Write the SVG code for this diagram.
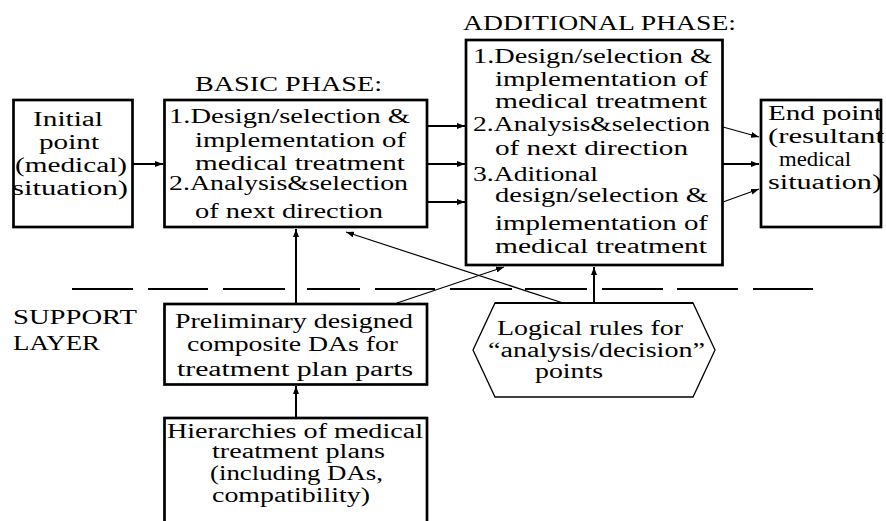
<svg xmlns="http://www.w3.org/2000/svg" width="886" height="521" viewBox="0 0 886 521">
<defs>
<marker id="ah" markerUnits="userSpaceOnUse" markerWidth="9" markerHeight="6" refX="8" refY="3" orient="auto">
<path d="M0,0 L8,3 L0,6 z" fill="#000"/>
</marker>
<style>
.box{fill:#fff;stroke:#000;stroke-width:2.7}
.thin{fill:#fff;stroke:#000;stroke-width:1.3}
.c{stroke:#000;stroke-width:2;fill:none}
.d{stroke:#000;stroke-width:1.2;fill:none}
.dash{stroke:#000;stroke-width:2;fill:none}
text{font-family:'Liberation Serif','DejaVu Serif',serif;font-size:20px;fill:#000}
</style>
</defs>
<rect width="886" height="521" fill="#fff"/>

<g id="separator">
<path class="dash" d="M72,289H133M148,289H208M223,289H285M307,289H360M375,289H435M450,289H512M525,289H587M602,289H663M677,289H738M753,289H813"/>
</g>

<g id="connectors">
<line class="c" x1="133" y1="164" x2="163" y2="164" marker-end="url(#ah)"/>
<line class="c" x1="428" y1="126" x2="465" y2="126" marker-end="url(#ah)"/>
<line class="c" x1="428" y1="164" x2="465" y2="164" marker-end="url(#ah)"/>
<line class="c" x1="428" y1="202" x2="465" y2="202" marker-end="url(#ah)"/>
<line class="d" x1="723" y1="127" x2="759" y2="137" marker-end="url(#ah)"/>
<line class="c" x1="723" y1="164" x2="759" y2="164" marker-end="url(#ah)"/>
<line class="d" x1="723" y1="202" x2="759" y2="189" marker-end="url(#ah)"/>
<line class="c" x1="296" y1="417" x2="296" y2="386" marker-end="url(#ah)"/>
<line class="c" x1="296" y1="303" x2="296" y2="229" marker-end="url(#ah)"/>
<line class="d" x1="397" y1="303" x2="504" y2="267" marker-end="url(#ah)"/>
<line class="d" x1="563" y1="303" x2="346" y2="232" marker-end="url(#ah)"/>
<line class="c" x1="594" y1="303" x2="594" y2="267" marker-end="url(#ah)"/>
</g>

<g id="initial">
<rect class="box" x="13.5" y="100" width="119" height="127"/>
<text x="33" y="126" textLength="70" lengthAdjust="spacingAndGlyphs">Initial</text>
<text x="39" y="149" textLength="60" lengthAdjust="spacingAndGlyphs">point</text>
<text x="15" y="172" textLength="112" lengthAdjust="spacingAndGlyphs">(medical)</text>
<text x="12" y="195" textLength="116" lengthAdjust="spacingAndGlyphs">situation)</text>
</g>

<g id="basic">
<text x="195" y="91" textLength="187" lengthAdjust="spacingAndGlyphs">BASIC PHASE:</text>
<rect class="box" x="164.5" y="100" width="262.5" height="127"/>
<text x="169" y="123" textLength="241" lengthAdjust="spacingAndGlyphs">1.Design/selection &amp;</text>
<text x="195" y="147" textLength="211" lengthAdjust="spacingAndGlyphs">implementation of</text>
<text x="195" y="170" textLength="210" lengthAdjust="spacingAndGlyphs">medical treatment</text>
<text x="169" y="190" textLength="239" lengthAdjust="spacingAndGlyphs">2.Analysis&amp;selection</text>
<text x="195" y="218" textLength="188" lengthAdjust="spacingAndGlyphs">of next direction</text>
</g>

<g id="additional">
<text x="463" y="30" textLength="273" lengthAdjust="spacingAndGlyphs">ADDITIONAL PHASE:</text>
<rect class="box" x="466" y="40" width="256.5" height="225"/>
<text x="473" y="63" textLength="239" lengthAdjust="spacingAndGlyphs">1.Design/selection &amp;</text>
<text x="495" y="86" textLength="213" lengthAdjust="spacingAndGlyphs">implementation of</text>
<text x="495" y="108" textLength="212" lengthAdjust="spacingAndGlyphs">medical treatment</text>
<text x="473" y="131" textLength="237" lengthAdjust="spacingAndGlyphs">2.Analysis&amp;selection</text>
<text x="495" y="155" textLength="193" lengthAdjust="spacingAndGlyphs">of next direction</text>
<text x="473" y="181" textLength="125" lengthAdjust="spacingAndGlyphs">3.Aditional</text>
<text x="495" y="202" textLength="213" lengthAdjust="spacingAndGlyphs">design/selection &amp;</text>
<text x="495" y="230" textLength="213" lengthAdjust="spacingAndGlyphs">implementation of</text>
<text x="495" y="253" textLength="212" lengthAdjust="spacingAndGlyphs">medical treatment</text>
</g>

<g id="end">
<rect class="box" x="761" y="100" width="120" height="127"/>
<text x="768" y="120" textLength="114" lengthAdjust="spacingAndGlyphs">End point</text>
<text x="768" y="143" textLength="116" lengthAdjust="spacingAndGlyphs">(resultant</text>
<text x="779" y="166" textLength="72" lengthAdjust="spacingAndGlyphs">medical</text>
<text x="768" y="189" textLength="114" lengthAdjust="spacingAndGlyphs">situation)</text>
</g>

<g id="support">
<text x="13" y="324" textLength="124" lengthAdjust="spacingAndGlyphs">SUPPORT</text>
<text x="13" y="350" textLength="87" lengthAdjust="spacingAndGlyphs">LAYER</text>
</g>

<g id="preliminary">
<rect class="box" x="164.5" y="304" width="262.5" height="80.5"/>
<text x="175" y="328" textLength="238" lengthAdjust="spacingAndGlyphs">Preliminary designed</text>
<text x="187" y="351" textLength="211" lengthAdjust="spacingAndGlyphs">composite DAs for</text>
<text x="177" y="376" textLength="236" lengthAdjust="spacingAndGlyphs">treatment plan parts</text>
</g>

<g id="rules">
<polygon class="thin" points="495,303 693,303 715,350 693,397 495,397 473,350"/>
<line x1="495" y1="303" x2="693" y2="303" stroke="#000" stroke-width="2"/>
<text x="497" y="335" textLength="186" lengthAdjust="spacingAndGlyphs">Logical rules for</text>
<text x="488" y="357" textLength="217" lengthAdjust="spacingAndGlyphs">“analysis/decision”</text>
<text x="535" y="378" textLength="68" lengthAdjust="spacingAndGlyphs">points</text>
</g>

<g id="hierarchies">
<rect class="box" x="164.5" y="418" width="262.5" height="112"/>
<text x="167" y="438" textLength="256" lengthAdjust="spacingAndGlyphs">Hierarchies of medical</text>
<text x="212" y="458" textLength="173" lengthAdjust="spacingAndGlyphs">treatment plans</text>
<text x="210" y="480" textLength="173" lengthAdjust="spacingAndGlyphs">(including DAs,</text>
<text x="212" y="502" textLength="158" lengthAdjust="spacingAndGlyphs">compatibility)</text>
</g>
</svg>
